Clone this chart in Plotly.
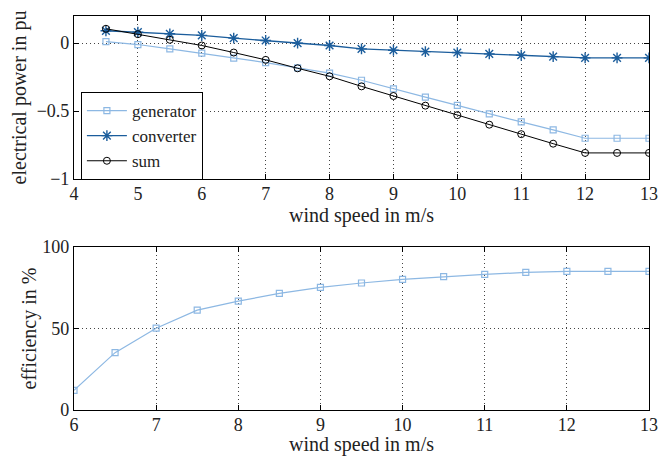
import plotly.graph_objects as go

wind_top = [4.5, 5, 5.5, 6, 6.5, 7, 7.5, 8, 8.5, 9, 9.5, 10, 10.5, 11, 11.5, 12, 12.5, 13]
generator = [0.012, -0.01, -0.042, -0.074, -0.11, -0.143, -0.182, -0.22, -0.273, -0.337, -0.397, -0.458, -0.52, -0.58, -0.638, -0.70, -0.70, -0.70]
converter = [0.091, 0.081, 0.069, 0.057, 0.037, 0.02, 0.0, -0.017, -0.042, -0.052, -0.062, -0.069, -0.079, -0.089, -0.099, -0.108, -0.108, -0.108]
total = [0.106, 0.066, 0.025, -0.017, -0.069, -0.123, -0.185, -0.244, -0.318, -0.389, -0.46, -0.53, -0.60, -0.67, -0.74, -0.808, -0.808, -0.808]

wind_bot = [6, 6.5, 7, 7.5, 8, 8.5, 9, 9.5, 10, 10.5, 11, 11.5, 12, 12.5, 13]
efficiency = [12.1, 35.2, 50.2, 61.3, 66.8, 71.5, 75.2, 77.9, 80.1, 81.8, 83.2, 84.4, 85.0, 85.0, 85.0]

LIGHT = "#8db8e3"
DARK = "#1b5d9c"
FONT = "'Liberation Serif', 'Times New Roman', Times, serif"
TS = 20   # title size
KS = 18   # tick size
LS = 17   # legend size
TOP, BOT = 16, 410
PH = BOT - TOP


def frac(px):
    return (BOT - px) / PH


fig = go.Figure()
fig.add_trace(go.Scatter(x=wind_top, y=generator, name="generator", mode="lines+markers",
                         line=dict(color=LIGHT, width=1.2),
                         marker=dict(symbol="square-open", size=6, color=LIGHT, line=dict(width=1.2)),
                         xaxis="x", yaxis="y"))
fig.add_trace(go.Scatter(x=wind_top, y=converter, name="converter", mode="lines+markers",
                         line=dict(color=DARK, width=1.4),
                         marker=dict(symbol="asterisk-open", size=9, color=DARK, line=dict(width=1.4, color=DARK)),
                         xaxis="x", yaxis="y"))
fig.add_trace(go.Scatter(x=wind_top, y=total, name="sum", mode="lines+markers",
                         line=dict(color="black", width=1),
                         marker=dict(symbol="circle-open", size=7, color="black", line=dict(width=1)),
                         xaxis="x", yaxis="y"))
fig.add_trace(go.Scatter(x=wind_bot, y=efficiency, name="efficiency", mode="lines+markers",
                         showlegend=False,
                         line=dict(color=LIGHT, width=1.2),
                         marker=dict(symbol="square-open", size=6, color=LIGHT, line=dict(width=1.2)),
                         xaxis="x2", yaxis="y2"))

axis_common = dict(showline=True, linecolor="black", linewidth=1.2, mirror="ticks",
                   ticks="inside", ticklen=5, tickcolor="black",
                   showgrid=True, gridcolor="#444444", griddash="1px,3px", gridwidth=1,
                   zeroline=False, automargin=False,
                   tickfont=dict(size=KS, color="#222", family=FONT))

tfont = dict(family=FONT, size=TS, color="#222")

fig.update_layout(
    width=659, height=456,
    margin=dict(l=74, r=10, t=TOP, b=456 - BOT),
    plot_bgcolor="white", paper_bgcolor="white",
    font=dict(family=FONT, size=TS, color="#222"),
    xaxis=dict(domain=[0, 1], range=[4, 13], dtick=1, anchor="y", ticklabelstandoff=-2,
               title=dict(text="wind speed in m/s", standoff=4, font=tfont), **axis_common),
    yaxis=dict(domain=[frac(179), 1], range=[-1, 0.2], tickvals=[-1, -0.5, 0],
               ticktext=["\u22121", "\u22120.5", "0"], anchor="x",
               title=dict(text="electrical power in pu", standoff=4, font=tfont), **axis_common),
    xaxis2=dict(domain=[0, 1], range=[6, 13], dtick=1, anchor="y2", ticklabelstandoff=-2,
                title=dict(text="wind speed in m/s", standoff=4, font=tfont), **axis_common),
    yaxis2=dict(domain=[0, frac(247)], range=[0, 100], tickvals=[0, 50, 100], anchor="x2",
                title=dict(text="efficiency in %", standoff=0, font=tfont), **axis_common),
    legend=dict(x=0.012, y=frac(180), xanchor="left", yanchor="bottom",
                bordercolor="black", borderwidth=1, bgcolor="white",
                font=dict(size=LS, family=FONT), itemwidth=40, tracegroupgap=0),
)

fig.write_html("out.html")
